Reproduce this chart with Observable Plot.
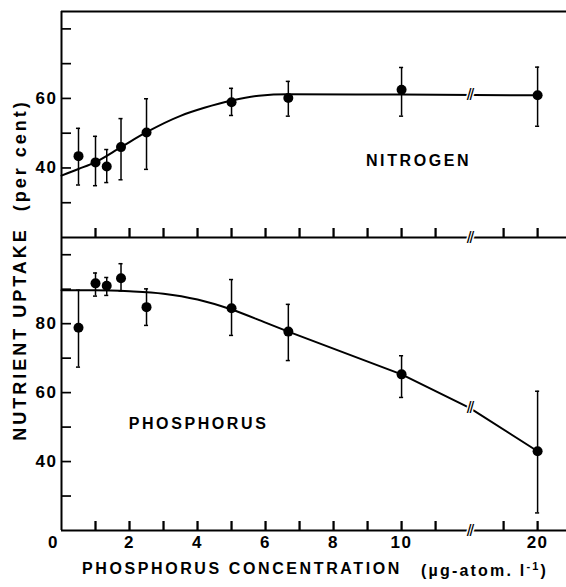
<!DOCTYPE html>
<html>
<head>
<meta charset="utf-8">
<script src="https://cdn.jsdelivr.net/npm/d3@7"></script>
<script src="https://cdn.jsdelivr.net/npm/@observablehq/plot@0.6"></script>
<style>
  html, body { margin: 0; padding: 0; background: white; }
  #wrap { position: relative; width: 566px; height: 587px; overflow: hidden; background: white;
          font-family: "Liberation Sans", Arial, sans-serif; color: black; }
  #wrap svg { position: absolute; left: 0; }
  #wrap svg text { letter-spacing: 1.5px; }
  .ytitle { position: absolute; left: 20px; top: 270px; transform: translate(-50%, -50%) rotate(-90deg);
            white-space: nowrap; font-size: 18px; font-weight: bold; letter-spacing: 3px; }
  .xtitle { position: absolute; top: 560px; white-space: nowrap; font-size: 16px; font-weight: bold; letter-spacing: 2.6px; }
</style>
</head>
<body>
<div id="wrap">
  <div class="ytitle">NUTRIENT UPTAKE&nbsp;&nbsp;(per cent)</div>
  <div class="xtitle" style="left:82px">PHOSPHORUS CONCENTRATION</div>
  <div class="xtitle" style="left:421px;letter-spacing:2.2px">(µg-atom.&nbsp;l<sup style="font-size:11px">-1</sup>)</div>
</div>
<script>
// ---- data (phosphorus concentration, µg-atom/l) ----
const concX = [0.5, 1, 1.33, 1.75, 2.5, 5, 6.67, 10, 20];

// Nitrogen uptake (%)
const nitroY  = [43.4, 41.6, 40.4, 46.0, 50.2, 58.9, 60.1, 62.5, 60.9];
const nitroLo = [35.1, 34.9, 35.8, 36.6, 39.6, 55.1, 54.9, 54.9, 52.0];
const nitroHi = [51.4, 49.1, 45.3, 54.2, 59.9, 62.9, 64.9, 68.9, 69.0];
const nitroCurveX = [0, 0.5, 1, 1.75, 2.5, 3.5, 4.2, 5, 5.8, 6.67, 10, 20];
const nitroCurveY = [37.8, 39.7, 41.7, 46.0, 50.3, 55.0, 57.3, 59.4, 60.8, 61.2, 61.1, 60.9];

// Phosphorus uptake (%)
const phosY  = [78.8, 91.7, 91.0, 93.2, 84.8, 84.5, 77.7, 65.3, 43.0];
const phosLo = [67.4, 88.0, 88.2, 89.5, 79.5, 76.6, 69.3, 58.6, 25.1];
const phosHi = [89.7, 94.7, 93.4, 97.4, 90.1, 92.8, 85.6, 70.7, 60.4];
const phosCurveX = [0, 1, 2, 3, 4, 5, 6, 6.67];
const phosCurveY = [89.7, 89.7, 89.4, 88.7, 87.0, 84.1, 80.3, 77.7];
const phosLineX = [6.67, 10, 12, 20];
const phosLineY = [77.7, 65.3, 55.6, 43.0];

// axes
const xMinorTicks = [1, 2, 3, 4, 5, 6, 7, 8, 9, 10, 11, 19, 20];
const xTickLabels = [2, 4, 6, 8, 10, 20];
const xZeroLabel = [0];
const axisBreakX = 12;       // scale break on the concentration axis
const breakShift = 6;        // 12..18 is cut out
const yTicksTop = [30, 40, 50, 60, 70, 80];
const yLabelsTop = [40, 60];
const yDomainTop = [20, 85];
const yTicksBottom = [30, 40, 50, 60, 70, 80, 90, 100];
const yLabelsBottom = [40, 60, 80];
const yDomainBottom = [20, 105];
const xDomain = [0, 14.85];

// panel labels
const nitroLabel = [{x: 10.5, y: 41.9, text: "NITROGEN"}];
const phosLabel = [{x: 4.03, y: 51, text: "PHOSPHORUS"}];
const nitroBreakY = 61.1;
const phosBreakY = 55.6;

// ---- helpers ----
const brk = v => (v <= axisBreakX ? v : v - breakShift);
const rows = (ys, lo, hi) => concX.map((x, i) => ({x: brk(x), y: ys[i], lo: lo[i], hi: hi[i]}));
const pts = (xs, ys) => xs.map((x, i) => ({x: brk(x), y: ys[i]}));
const caps = (r) => r.flatMap(d => [{x: d.x, y: d.lo}, {x: d.x, y: d.hi}]);

const W = 566, ML = 61;
const innerW = W - ML;
const fontStyle = {background: "transparent", overflow: "visible",
  fontFamily: "'Liberation Sans', Arial, sans-serif", fontSize: "17px", fontWeight: "bold", color: "black"};

const breakMark = (x, y, size) => Plot.text([{x, y}], {x: "x", y: "y", text: () => "//", fontSize: size,
  fontWeight: "normal", fill: "black", stroke: "white", strokeWidth: 3, paintOrder: "stroke"});

function panelMarks(r, yDomain, yTicks, yLabels, innerH) {
  const tickLen = 9 * (yDomain[1] - yDomain[0]) / innerH; // 9 px in data units
  const tickRows = xMinorTicks.map(v => ({tx: brk(v), ty1: yDomain[0], ty2: yDomain[0] + tickLen}));
  return [
    Plot.ruleX([0], {strokeWidth: 2}),
    Plot.ruleY([yDomain[0]], {strokeWidth: 2}),
    Plot.ruleX(tickRows, {x: "tx", y1: "ty1", y2: "ty2", stroke: "black", strokeWidth: 1.8}),
    Plot.axisX({anchor: "bottom", ticks: xMinorTicks.map(brk), tickSize: -9, tickFormat: () => "",
      label: null, strokeWidth: 1.8}),
    Plot.tickY(yTicks, {y: d => d, insetRight: innerW - 10, strokeWidth: 1.7}),
    Plot.axisY({ticks: yLabels, tickSize: 0, tickPadding: 4, label: null, fontSize: 17, fontWeight: "bold"}),
    Plot.ruleX(r, {x: "x", y1: "lo", y2: "hi", strokeWidth: 1.5}),
    Plot.ruleY(caps(r), {y: "y", x1: d => d.x - 0.06, x2: d => d.x + 0.06, strokeWidth: 1.5}),
    Plot.dot(r, {x: "x", y: "y", r: 5, fill: "black", stroke: "none"}),
    breakMark(axisBreakX, yDomain[0], 17)
  ];
}

const nitroRows = rows(nitroY, nitroLo, nitroHi);
const phosRows = rows(phosY, phosLo, phosHi);

const topH = 240, topMT = 11, topMB = 3;
const topPlot = Plot.plot({
  width: W, height: topH, marginTop: topMT, marginBottom: topMB, marginLeft: ML, marginRight: 0,
  x: {domain: xDomain},
  y: {domain: yDomainTop},
  style: fontStyle,
  marks: [
    Plot.ruleY([yDomainTop[1]], {strokeWidth: 2}),
    Plot.line(pts(nitroCurveX, nitroCurveY), {x: "x", y: "y", curve: "monotone-x", strokeWidth: 2}),
    breakMark(axisBreakX, nitroBreakY, 17),
    ...panelMarks(nitroRows, yDomainTop, yTicksTop, yLabelsTop, topH - topMT - topMB),
    Plot.text(nitroLabel, {x: "x", y: "y", text: "text", fontSize: 16, fontWeight: "bold", fill: "black"})
  ]
});
topPlot.style.top = "0px";

const botTop = 234, botH = 353, botMT = 3, botMB = 57;
const botPlot = Plot.plot({
  width: W, height: botH, marginTop: botMT, marginBottom: botMB, marginLeft: ML, marginRight: 0,
  x: {domain: xDomain},
  y: {domain: yDomainBottom},
  style: fontStyle,
  marks: [
    Plot.line(pts(phosCurveX, phosCurveY), {x: "x", y: "y", curve: "monotone-x", strokeWidth: 2}),
    Plot.line(pts(phosLineX, phosLineY), {x: "x", y: "y", strokeWidth: 2}),
    breakMark(axisBreakX, phosBreakY, 17),
    ...panelMarks(phosRows, yDomainBottom, yTicksBottom, yLabelsBottom, botH - botMT - botMB),
    Plot.axisX({ticks: xTickLabels.map(brk), tickFormat: v => String(v <= axisBreakX ? v : v + breakShift),
      tickSize: 0, tickPadding: 5, label: null, fontSize: 17, fontWeight: "bold"}),
    Plot.axisX({ticks: xZeroLabel, tickFormat: v => String(v), tickSize: 0, tickPadding: 5, dx: -8,
      label: null, fontSize: 17, fontWeight: "bold"}),
    Plot.text(phosLabel, {x: "x", y: "y", text: "text", fontSize: 16, fontWeight: "bold", fill: "black"})
  ]
});
botPlot.style.top = botTop + "px";

const wrap = document.getElementById("wrap");
wrap.appendChild(topPlot);
wrap.appendChild(botPlot);
// wider letter spacing on the panel labels
for (const t of wrap.querySelectorAll("svg text")) {
  if (/NITROGEN|PHOSPHORUS/.test(t.textContent)) t.style.letterSpacing = "2.6px";
  if (t.textContent === "//") t.style.letterSpacing = "-2px";
}
</script>
</body>
</html>
